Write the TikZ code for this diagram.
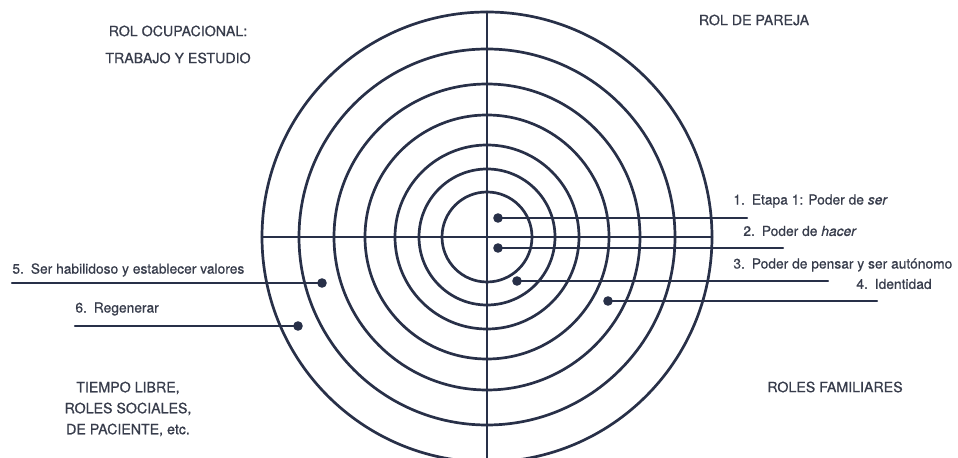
\documentclass[tikz,border=0pt]{standalone}
\usepackage{fontspec}
\setmainfont{TeX Gyre Heros}[FakeBold=0.7]
\definecolor{inkline}{RGB}{40,48,72}
\definecolor{inktext}{RGB}{55,60,75}

\begin{document}
\begin{tikzpicture}[x=0.5pt,y=-0.5pt,line cap=round,line join=round,
  ring/.style={inkline,line width=1.35pt},
  leader/.style={inkline,line width=1.15pt},
  dot/.style={circle,fill=inkline,inner sep=0pt,minimum size=4.8pt},
  zone/.style={text=inktext,align=center,inner sep=0pt,font={\fontsize{7.1pt}{13.5pt}\selectfont}},
  stage/.style={text=inktext,anchor=west,inner sep=0pt,font={\fontsize{6.9pt}{8pt}\selectfont}}]
\useasboundingbox (0,0) rectangle (958,458);
\coordinate (c) at (487,237);
\draw[ring] (c) circle[radius=112.5pt];
\draw[ring] (c) circle[radius=94pt];
\draw[ring] (c) circle[radius=76.5pt];
\draw[ring] (c) circle[radius=61pt];
\draw[ring] (c) circle[radius=46pt];
\draw[ring] (c) circle[radius=34pt];
\draw[ring] (c) circle[radius=22.5pt];
\draw[ring] (487,12) -- (487,470);
\draw[ring] (262,237) -- (712,237);
\node[zone] (ocup) at (178,44.5) {ROL OCUPACIONAL:\\TRABAJO Y ESTUDIO};
\node[zone] (pareja) at (754,20) {ROL DE PAREJA};
\node[zone,font={\fontsize{7.1pt}{10.5pt}\selectfont}] (libre) at (128,409) {TIEMPO LIBRE,\\ROLES SOCIALES,\\DE PACIENTE, etc.};
\node[zone] (familia) at (835,387) {ROLES FAMILIARES};
\node[dot] (d1) at (498,218) {};
\node[dot] (d2) at (498,248) {};
\node[dot] (d3) at (517,281) {};
\node[dot] (d4) at (608,301) {};
\node[dot] (d5) at (322,283) {};
\node[dot] (d6) at (298,326) {};
\coordinate (e1) at (747,218);
\coordinate (e2) at (783,248);
\coordinate (e3) at (828,281);
\coordinate (e4) at (877,301);
\coordinate (e5) at (12,283);
\coordinate (e6) at (75,326);
\draw[leader] (d1.center) -- (e1);
\draw[leader] (d2.center) -- (e2);
\draw[leader] (d3.center) -- (e3);
\draw[leader] (d4.center) -- (e4);
\draw[leader] (d5.center) -- (e5);
\draw[leader] (d6.center) -- (e6);
\node[stage] (s1) at (733,201) {1.\enspace Etapa 1: Poder de \emph{ser}};
\node[stage] (s2) at (743,231) {2.\enspace Poder de \emph{hacer}};
\node[stage] (s3) at (733,265) {3.\enspace Poder de pensar y ser autónomo};
\node[stage] (s4) at (856,284) {4.\enspace Identidad};
\node[stage] (s5) at (12,270) {5.\enspace Ser habilidoso y establecer valores};
\node[stage] (s6) at (75,309) {6.\enspace Regenerar};
\end{tikzpicture}
\end{document}
